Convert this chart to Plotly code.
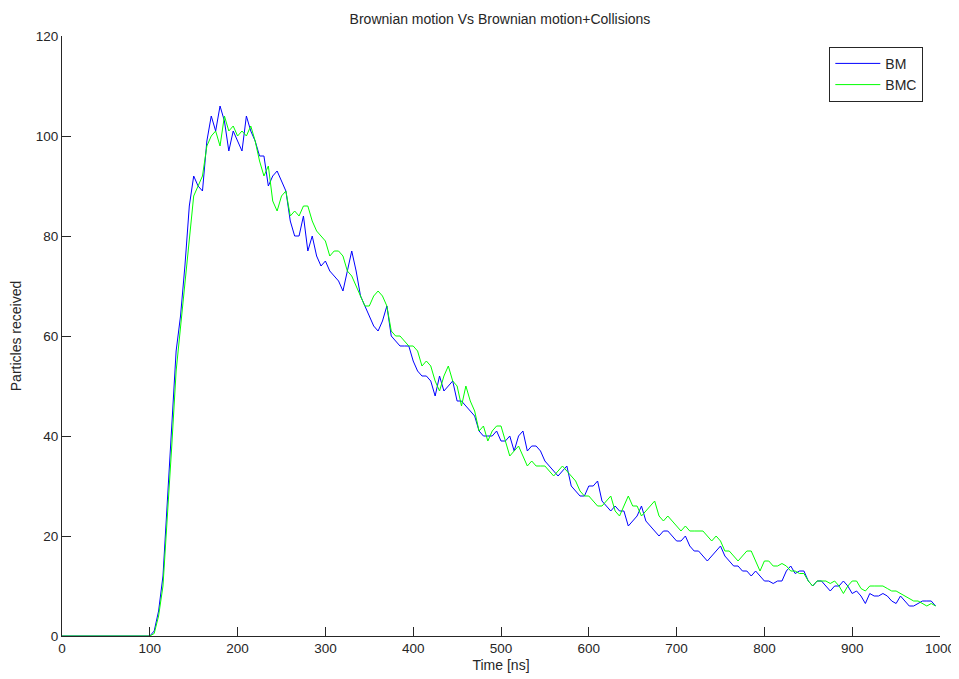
import plotly.graph_objects as go

# time axis (ns), sampled every 5 ns
time_ns = list(range(0, 1000, 5))

bm_tail = [  # values from t=105 to 995
    1, 5, 12, 26, 42, 57, 64, 74, 86, 92, 90, 89, 99, 104, 101, 106, 103, 97, 101, 99,
    97, 104, 101, 99, 96, 96, 90, 92, 93, 91, 89, 83, 80, 80, 84, 77, 80, 76, 74, 75,
    73, 72, 71, 69, 73, 77, 73, 68, 66, 64, 62, 61, 63, 66, 60, 59, 58, 58, 58, 55,
    53, 52, 52, 51, 48, 52, 49, 50, 51, 47, 47, 46, 45, 44, 41, 40, 40, 40, 41, 39,
    39, 40, 37, 40, 41, 37, 38, 38, 37, 35, 34, 33, 32, 33, 34, 30, 29, 28, 28, 30,
    30, 31, 27, 26, 25, 26, 25, 25, 22, 23, 24, 26, 23, 22, 21, 20, 21, 21, 20, 19,
    19, 20, 18, 17, 17, 16, 15, 16, 17, 18, 16, 15, 14, 14, 13, 13, 12, 13, 12, 11,
    11, 10.5, 11, 11, 13, 14, 12.5, 13, 13, 11, 10, 11, 11, 10, 9, 10, 10, 11, 10, 8.5,
    9, 8, 6.5, 8.5, 8, 8, 8.5, 8, 7, 6.5, 8, 7, 6, 6, 6.5, 7, 7, 7, 6,
]
bmc_tail = [  # values from t=105 to 995
    0.5, 4, 10, 23, 38, 53, 62, 70, 80, 88, 90, 92, 98, 100, 101, 98, 104, 101, 102, 100,
    101, 100, 102, 99, 95, 92, 94, 87, 85, 88, 89, 84, 85, 84, 86, 86, 83, 81, 80, 79,
    76, 77, 77, 76, 73, 72, 70, 68, 66, 66, 68, 69, 68, 66, 61, 60, 60, 59, 58, 58,
    57, 54, 55, 54, 51, 49, 52, 54, 51, 50, 46, 50, 47, 45, 41, 42, 39, 41, 42, 42,
    39, 36, 37, 38, 36, 34, 35, 34, 34, 34, 33, 32, 33, 34, 33, 32, 31, 29, 28, 28,
    27, 26, 26, 27, 28, 25, 24, 26, 28, 26, 26, 24, 25, 26, 27, 24, 23, 24, 23, 22,
    21, 22, 21, 21, 21, 21, 20, 19, 20, 19, 17, 17, 16, 15, 16, 17, 17, 15, 13, 15,
    15, 14, 14, 14.5, 14, 13, 13, 12.5, 12.5, 11, 10, 11, 11, 11, 10.5, 11, 10, 8.5, 10, 11,
    11, 9.5, 9, 10, 10, 10, 10, 9.5, 9, 9, 8.5, 8, 7.5, 7, 7, 6.5, 6, 6.5, 6,
]
bm_values = [0] * 21 + bm_tail
bmc_values = [0] * 21 + bmc_tail

series_names = ["BM", "BMC"]
series_colors = ["#0000FF", "#00FF00"]

x_ticks = list(range(0, 1001, 100))
y_ticks = list(range(0, 121, 20))

fam = "Liberation Sans, Arial, sans-serif"
tick_font = dict(family=fam, size=13.5, color="#262626")
title_font = dict(family=fam, size=14, color="#262626")

fig = go.Figure()
for name, vals, col in zip(series_names, [bm_values, bmc_values], series_colors):
    fig.add_trace(go.Scatter(x=time_ns, y=vals, mode="lines", name=name,
                             line=dict(color=col, width=1)))

axis_common = dict(showgrid=False, zeroline=False, showline=True, linecolor="#262626",
                   linewidth=1, ticks="inside", ticklen=9, tickcolor="#262626",
                   tickfont=tick_font, mirror=False, automargin=False)

# the page body adds an 8px offset, so the figure is sized to fit the window
W, H = 951, 671
fig.update_layout(
    width=W, height=H,
    margin=dict(l=54, r=19, t=28, b=43, autoexpand=False),
    paper_bgcolor="white", plot_bgcolor="white",
    font=title_font,
    title=dict(text="Brownian motion Vs Brownian motion+Collisions", x=492 / W,
               xanchor="center", y=1 - 11 / H, yanchor="middle", font=title_font,
               automargin=False),
    xaxis=dict(range=[0, 1000], tickvals=x_ticks,
               title=dict(text="Time [ns]", font=title_font, standoff=4),
               **axis_common),
    yaxis=dict(range=[0, 120], tickvals=y_ticks,
               title=dict(text="Particles received", font=title_font, standoff=10),
               **axis_common),
    legend=dict(x=0.981, y=0.982, xanchor="right", yanchor="top", bgcolor="white",
                bordercolor="#262626", borderwidth=1, font=title_font, tracegroupgap=0,
                itemwidth=45),
    showlegend=True,
)

fig.write_html("out.html")
